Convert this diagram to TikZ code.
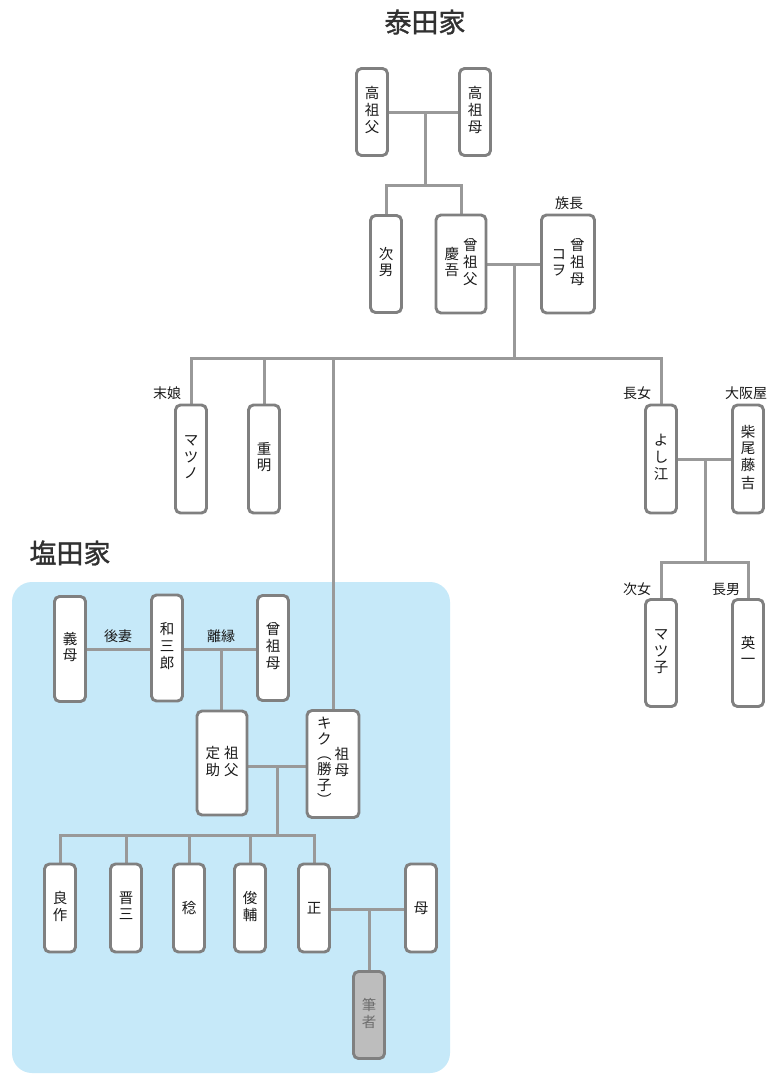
\documentclass[tikz,border=0pt]{standalone}
\usepackage{fontspec}
\setmainfont{Noto Sans CJK JP}
\newfontfamily\ttlfont[FakeBold=1.2]{Noto Sans CJK JP}
\usetikzlibrary{calc}
\pgfdeclarelayer{background}
\pgfdeclarelayer{paper}
\pgfsetlayers{paper,background,main}
\definecolor{boxc}{HTML}{808080}
\definecolor{linec}{HTML}{999999}
\definecolor{bluebg}{HTML}{C6E9F9}
\definecolor{hissfill}{HTML}{BDBDBD}
\definecolor{hisstext}{HTML}{6E6E6E}
\definecolor{txt}{HTML}{1A1A1A}
\newcommand{\vc}[1]{\begin{tabular}{@{}c@{}}#1\end{tabular}}
\begin{document}
\begin{tikzpicture}[x=1pt,y=-1pt,
  person/.style={draw=boxc, line width=2.9pt, rounded corners=5pt, fill=white,
    inner sep=0pt, text=txt, font=\fontsize{14.5}{16.5}\selectfont},
  nar/.style={person, minimum width=31pt},
  wide/.style={person, minimum width=50pt},
  lab/.style={text=txt, inner sep=0pt, font=\fontsize{14}{16}\selectfont},
  ttl/.style={text=txt!90, inner sep=0pt, font=\ttlfont\fontsize{27}{30}\selectfont},
  conn/.style={draw=linec, line width=3pt}]
\begin{pgfonlayer}{paper}
\fill[white] (0,0) rectangle (771,1079);
\fill[bluebg, rounded corners=20pt] (12,582) rectangle (450,1073);
\end{pgfonlayer}
\useasboundingbox (0,0) rectangle (771,1079);

% titles
\node[ttl] (t1) at (425,22) {泰田家};
\node[ttl] (t2) at (70,553) {塩田家};

% Hata family
\node[nar, minimum height=87pt] (ggf) at (372,112) {\vc{高\\祖\\父}};
\node[nar, minimum height=87pt] (ggm) at (475,112) {\vc{高\\祖\\母}};
\node[nar, minimum height=97pt] (jinan) at (386,264) {\vc{次\\男}};
\node[wide, minimum height=98pt] (sofu1) at (461,264) {\vc{慶\\吾}\hspace{4pt}\vc{曾\\祖\\父}};
\node[wide, minimum width=53pt, minimum height=98pt] (sobo1) at (568,264) {\vc{コ\\ヲ}\hspace{4pt}\vc{曾\\祖\\母}};
\node[lab] (l1) at (569,203) {族長};

\node[nar, minimum height=108pt] (matsuno) at (191,459) {\vc{マ\\ツ\\ノ}};
\node[nar, minimum height=108pt] (shigeaki) at (264,459) {\vc{重\\明}};
\node[nar, minimum height=108pt] (yoshie) at (661,459) {\vc{よ\\し\\江}};
\node[nar, minimum height=108pt] (shibao) at (748,459) {\vc{柴\\尾\\藤\\吉}};
\node[lab] (l2) at (167,393) {末娘};
\node[lab] (l3) at (637,393) {長女};
\node[lab] (l4) at (746,393) {大阪屋};

\node[nar, minimum height=107pt] (matsuko) at (661,653) {\vc{マ\\ツ\\子}};
\node[nar, minimum height=107pt] (eiichi) at (748,653) {\vc{英\\一}};
\node[lab] (l5) at (637,589) {次女};
\node[lab] (l6) at (726,589) {長男};

% Shioda family
\node[nar, minimum height=105pt] (gibo) at (70,649) {\vc{義\\母}};
\node[nar, minimum height=106pt] (wasaburo) at (167,648) {\vc{和\\三\\郎}};
\node[nar, minimum height=105pt] (sobo2) at (273,648) {\vc{曾\\祖\\母}};
\node[lab] (l7) at (118,636) {後妻};
\node[lab] (l8) at (221,636) {離縁};

\node[wide, minimum height=104pt] (sofu2) at (222,763) {\vc{定\\助}\hspace{4pt}\vc{祖\\父}};
\node[wide, minimum width=52pt, minimum height=107pt] (kiku) at (333,764)
  {\begin{tabular}{@{}c@{}}キ\\[-1pt]ク\\[-2pt]︵\\[-2pt]勝\\子\\[-2pt]︶\end{tabular}\hspace{3pt}\vc{祖\\母}};

\node[nar, minimum height=88pt] (ryosaku) at (60,908) {\vc{良\\作}};
\node[nar, minimum height=88pt] (shinzo) at (126,908) {\vc{晋\\三}};
\node[nar, minimum height=88pt] (minoru) at (189,908) {稔};
\node[nar, minimum height=88pt] (shunsuke) at (250,908) {\vc{俊\\輔}};
\node[nar, minimum height=88pt] (tadashi) at (314,908) {正};
\node[nar, minimum height=88pt] (haha) at (421,908) {母};
\node[nar, minimum height=87pt, fill=hissfill, text=hisstext] (hissha) at (369,1015) {\vc{筆\\者}};

% connectors
\begin{pgfonlayer}{background}
\coordinate (j1) at (425,112);
\coordinate (b1) at (425,185);
\draw[conn] (ggf.east) -- (ggf.east -| ggm.west);
\draw[conn] (j1) -- (b1);
\draw[conn] (jinan.north) |- (b1) -| (sofu1.north);

\coordinate (j2) at (514,264);
\coordinate (b2) at (514,358);
\draw[conn] (sofu1.east) -- (sofu1.east -| sobo1.west);
\draw[conn] (j2) -- (b2);
\draw[conn] (matsuno.north) |- (b2) -| (yoshie.north);
\draw[conn] (shigeaki.north) -- (shigeaki.north |- b2);
\draw[conn] (kiku.north) -- (kiku.north |- b2);

\coordinate (j3) at (705,459);
\coordinate (b3) at (705,562);
\draw[conn] (yoshie.east) -- (yoshie.east -| shibao.west);
\draw[conn] (j3) -- (b3);
\draw[conn] (matsuko.north) |- (b3) -| (eiichi.north);

\coordinate (j4) at (221,649);
\draw[conn] (gibo.east) -- (gibo.east -| wasaburo.west);
\draw[conn] (wasaburo.east |- j4) -- (j4 -| sobo2.west);
\draw[conn] (j4) -- (j4 |- sofu2.north);

\coordinate (j5) at (277,766);
\coordinate (b5) at (277,835);
\draw[conn] (sofu2.east |- j5) -- (j5 -| kiku.west);
\draw[conn] (j5) -- (b5);
\draw[conn] (ryosaku.north) |- (b5) -| (tadashi.north);
\draw[conn] (shinzo.north) -- (shinzo.north |- b5);
\draw[conn] (minoru.north) -- (minoru.north |- b5);
\draw[conn] (shunsuke.north) -- (shunsuke.north |- b5);

\coordinate (j6) at (369,909);
\draw[conn] (tadashi.east |- j6) -- (j6 -| haha.west);
\draw[conn] (j6) -- (j6 |- hissha.north);
\end{pgfonlayer}
\end{tikzpicture}
\end{document}
